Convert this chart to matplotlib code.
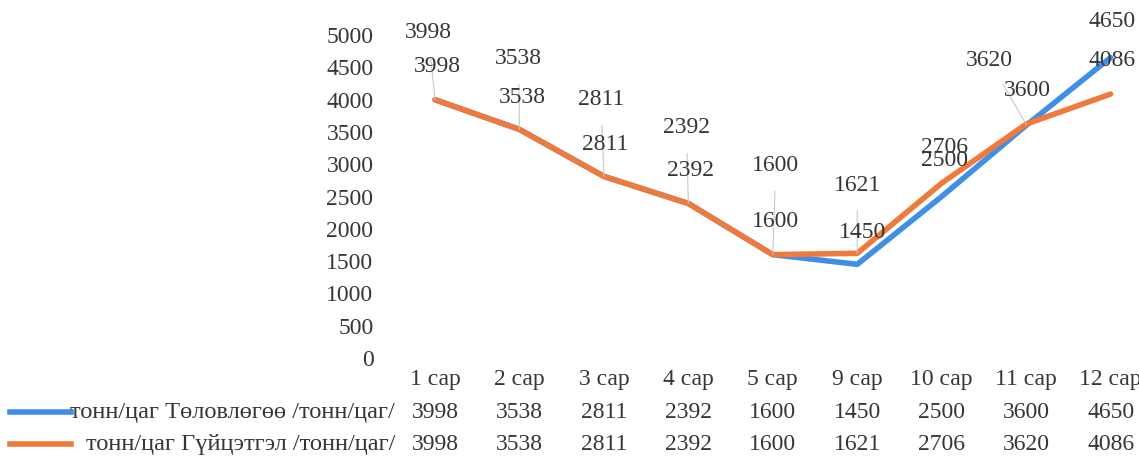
import matplotlib.pyplot as plt
from matplotlib.transforms import blended_transform_factory
from matplotlib.lines import Line2D

# chart data
months = ['1 сар', '2 сар', '3 сар', '4 сар', '5 сар', '9 сар', '10 сар', '11 сар', '12 сар']
plan = [3998, 3538, 2811, 2392, 1600, 1450, 2500, 3600, 4650]
actual = [3998, 3538, 2811, 2392, 1600, 1621, 2706, 3620, 4086]
plan_name = 'тонн/цаг Төловлөгөө /тонн/цаг/'
actual_name = 'тонн/цаг Гүйцэтгэл /тонн/цаг/'

blue = '#3f8fe6'
orange = '#ef7a3c'
txt = '#363636'
fs = 17

plt.rcParams['font.family'] = ['Liberation Serif', 'DejaVu Serif']
plt.rcParams['font.size'] = fs

fig = plt.figure(figsize=(11.39, 4.61), dpi=100)
ax = fig.add_axes([0.3449, 0.2234, 0.6672, 0.7007])

x = list(range(len(months)))
ax.plot(x, plan, color=blue, lw=4, solid_capstyle='round', zorder=2)
ax.plot(x, actual, color=orange, lw=4, solid_capstyle='round', zorder=3)

ax.set_xlim(-0.5, len(months) - 0.5)
ax.set_ylim(0, 5000)
ax.set_yticks(range(0, 5001, 500))
ax.tick_params(axis='y', length=0, pad=14, colors=txt, labelsize=fs)
ax.set_xticks(x)
ax.set_xticklabels(months)
ax.tick_params(axis='x', length=0, pad=8, colors=txt, labelsize=fs)
for s in ax.spines.values():
    s.set_visible(False)

# data labels: (text, anchor value, offset in pixels)
upper = [(actual[0], actual[0], (-7, 67)), (actual[1], actual[1], (-1, 71)), (actual[2], actual[2], (-3, 77)),
         (actual[3], actual[3], (-2, 76)), (actual[4], actual[4], (3, 89)), (actual[5], actual[5], (0, 68)),
         (actual[6], actual[6], (3, 36)), (actual[7], actual[7], (-37, 64)), (plan[8], plan[8], (1, 36))]
lower = [(plan[0], plan[0], (2, 33)), (plan[1], plan[1], (3, 32)), (plan[2], plan[2], (1, 32)),
         (plan[3], plan[3], (2, 33)), (plan[4], plan[4], (3, 33)), (plan[5], plan[5], (5, 32)),
         (plan[6], plan[6], (3, 36)), (plan[7], plan[7], (1, 35)), (actual[8], actual[8], (1, 34))]

leader = {0, 1, 2, 3, 4, 5, 7}
for i in x:
    val, base, off = upper[i]
    ax.annotate(str(val), (i, base), xytext=off, textcoords='offset pixels',
                ha='center', va='center', color=txt, fontsize=fs, zorder=4,
                arrowprops=dict(arrowstyle='-', color='#c8c8c8', lw=0.8, shrinkA=9, shrinkB=0) if i in leader else None)
    val, base, off = lower[i]
    ax.annotate(str(val), (i, base), xytext=off, textcoords='offset pixels',
                ha='center', va='center', color=txt, fontsize=fs, zorder=4)

# data table under the chart
tr = blended_transform_factory(ax.transData, fig.transFigure)
rows = [(plan_name, plan, blue, 1 - 412 / 461), (actual_name, actual, orange, 1 - 444 / 461)]
for name, vals, col, yy in rows:
    fig.text(0.347, yy, name, ha='right', va='center', color=txt, fontsize=17.6)
    fig.add_artist(Line2D([0.009, 0.062], [yy, yy], color=col, lw=4, transform=fig.transFigure))
    for i, v in enumerate(vals):
        ax.text(i, yy, str(v), transform=tr, ha='center', va='center', color=txt, fontsize=fs, clip_on=False)

fig.savefig('out.png', dpi=100)
